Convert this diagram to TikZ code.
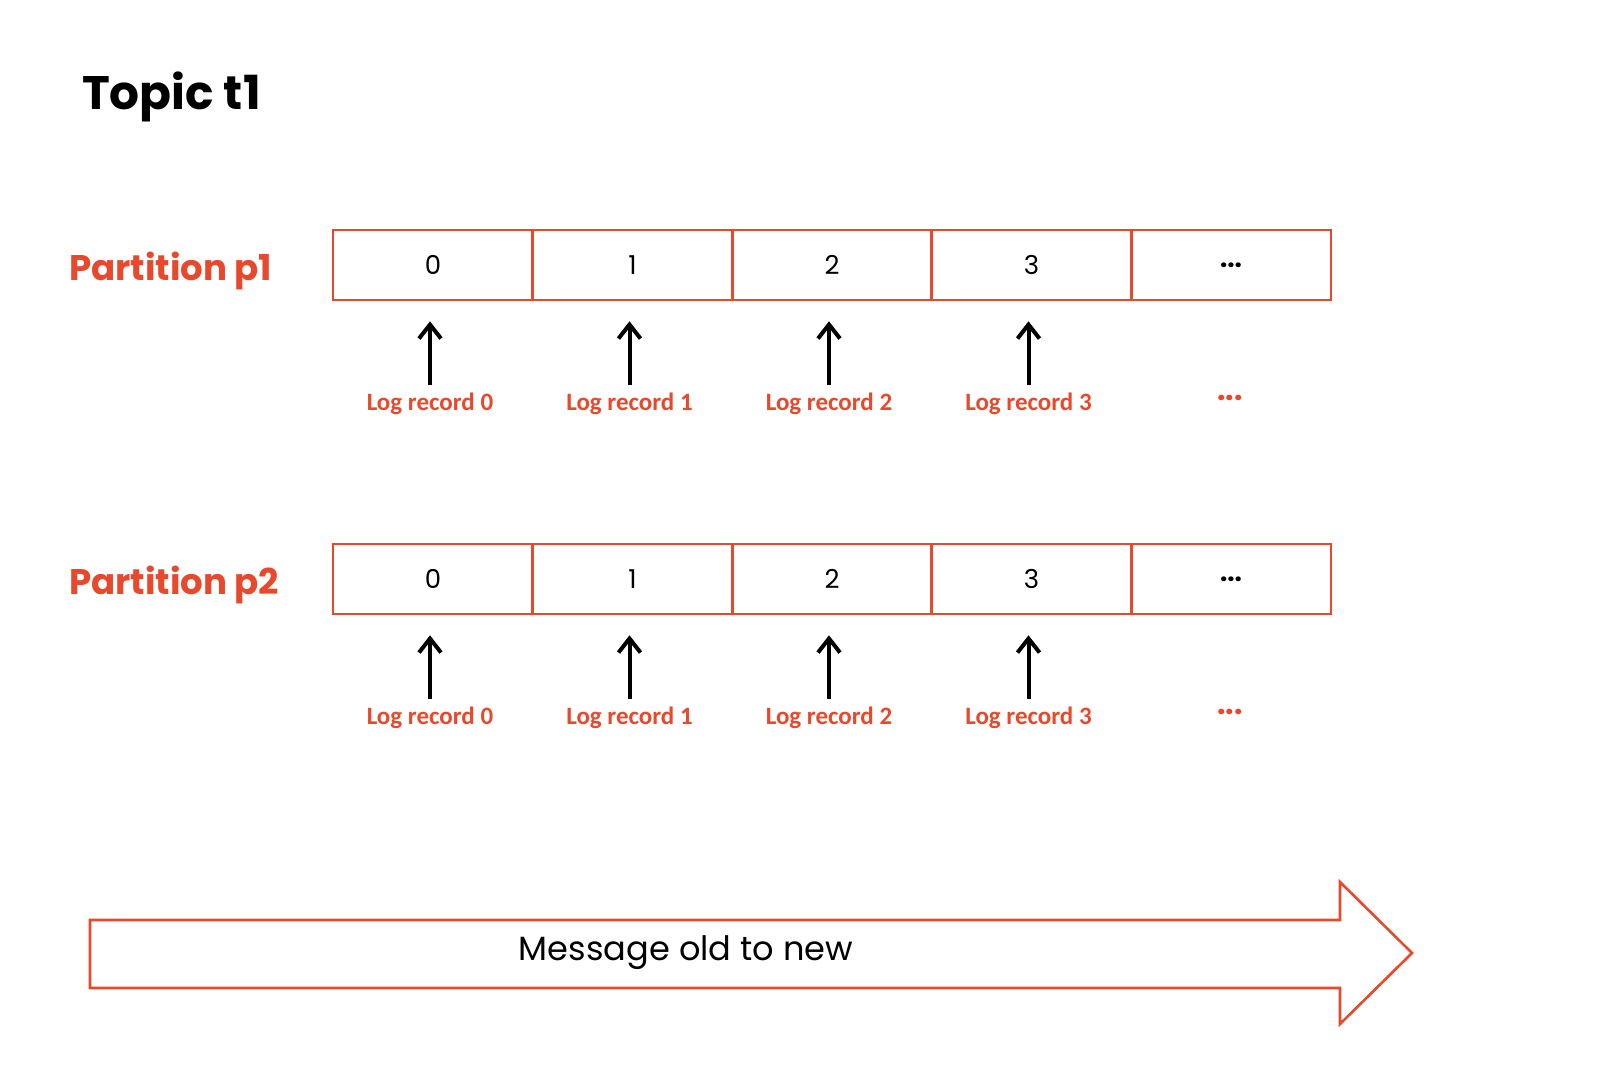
\documentclass[tikz,border=0pt]{standalone}
\usepackage{fontspec}
\setmainfont{Poppins}
\newfontfamily\lab{Carlito}
\usetikzlibrary{arrows.meta}
\definecolor{kred}{HTML}{E8482B}
\begin{document}
\begin{tikzpicture}[x=0.5pt,y=-0.5pt,
 cell/.style={draw=kred,line width=1.3pt,minimum width=100pt,minimum height=35pt,inner sep=0,font=\fontsize{13}{15}\selectfont},
 ptr/.style={-{Straight Barb[length=7pt,width=11pt]},line width=2pt},
 loglab/.style={text=kred,font=\lab\bfseries\fontsize{12.5}{14}\selectfont},
 plab/.style={text=kred,font=\bfseries\fontsize{17.8}{20}\selectfont,anchor=west}]
\useasboundingbox (0,0) rectangle (1600,1066);
\node[anchor=west,font=\bfseries\fontsize{23.5}{28}\selectfont] (title) at (75,97) {Topic t1};
\foreach \r/\y in {1/265,2/579}{
 \node[plab] (p\r) at (62,\y+6) {Partition p\r};
 \foreach \i/\t in {0/0,1/1,2/2,3/3,4/\textbf{...}}{
  \node[cell] (c\r\i) at (433+\i*199.5,\y) {\t};
 }
 \foreach \i in {0,1,2,3}{
  \node[loglab] (l\r\i) at (430+\i*199.5,\y+139) {Log record \i};
  \coordinate (s\r\i) at (430+\i*199.5,\y+120);
  \draw[ptr] (s\r\i) -- ([yshift=-10pt]s\r\i |- c\r\i.south);
 }
 \node[text=kred,font=\bfseries\fontsize{15}{16}\selectfont] (l\r4) at (1230,\y+133) {...};
}
\draw[kred,line width=1.3pt,fill=white] (90,920) -- (1340,920) -- (1340,882) -- (1412,953) -- (1340,1024) -- (1340,988) -- (90,988) -- cycle;
\node[font=\fontsize{16.8}{20}\selectfont] (msg) at (686,953) {Message old to new};
\end{tikzpicture}
\end{document}
